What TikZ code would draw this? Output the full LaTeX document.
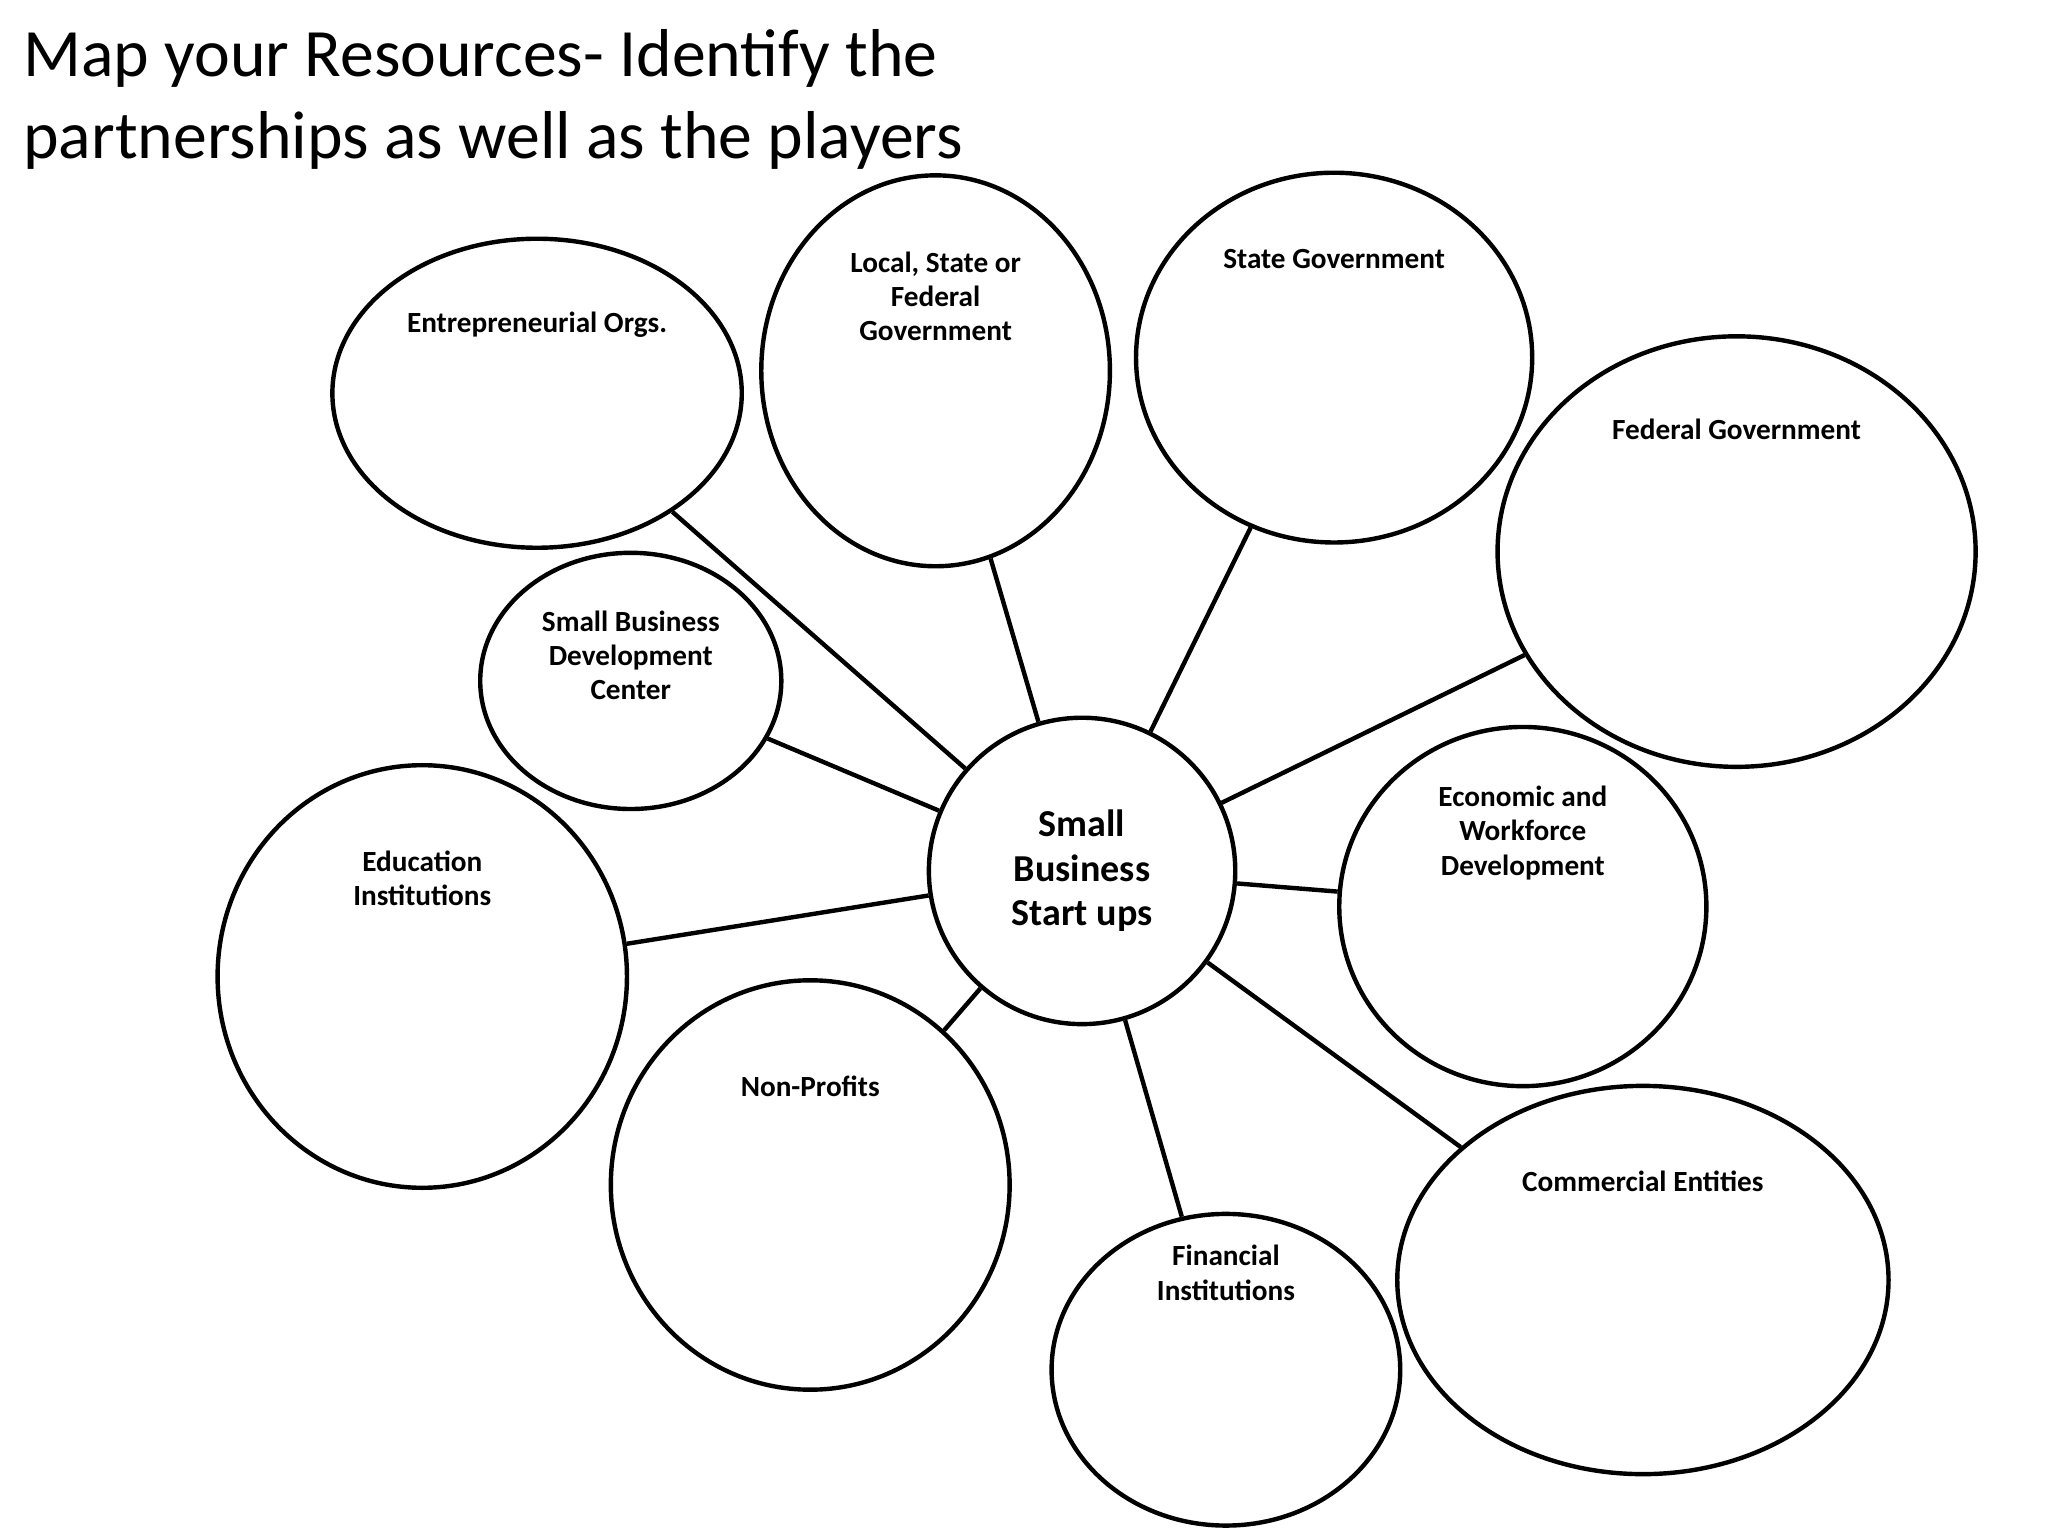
\documentclass[tikz,border=0pt]{standalone}
\usepackage{fontspec}
\setmainfont{Carlito}
\usetikzlibrary{shapes.geometric}
\begin{document}
\begin{tikzpicture}[x=0.01cm,y=-0.01cm,
  bub/.style={draw,ellipse,line width=0.95pt,inner sep=0pt},
  lab/.style={font=\fontsize{6.3}{7.4}\selectfont\bfseries,align=center,anchor=north,inner sep=0pt},
  con/.style={line width=0.95pt}]
\useasboundingbox (0,0) rectangle (1552,1164);
\node[anchor=north west,align=left,inner sep=0pt,font=\fontsize{14.6}{17.6}\selectfont] at (17,22) {Map your Resources- Identify the\\partnerships as well as the players};
\newcommand\bubb[6]{\node[bub,minimum width=#4*0.02cm,minimum height=#5*0.02cm] (#1) at (#2,#3) {};}
\bubb{c}{820}{660}{116}{116}{}
\bubb{ent}{407}{298}{155}{117}{}
\bubb{loc}{709}{281}{132}{148}{}
\bubb{sta}{1011}{271}{150}{140}{}
\bubb{fed}{1316}{418}{181}{163}{}
\bubb{sbdc}{478}{516}{114}{97}{}
\bubb{edu}{320}{740}{155}{160}{}
\bubb{eco}{1154}{687}{139}{136}{}
\bubb{non}{614}{898}{151}{155}{}
\bubb{fin}{929}{1038}{132}{118}{}
\bubb{com}{1245}{970}{186}{147}{}
\node[font=\fontsize{8.2}{9.6}\selectfont\bfseries,align=center,inner sep=0pt] (ct) at (820,660) {Small\\Business\\Start ups};
\node[lab] (t1) at (407,236) {Entrepreneurial Orgs.};
\node[lab] (t2) at (709,190) {Local, State or\\Federal\\Government};
\node[lab] (t3) at (1011,188) {State Government};
\node[lab] (t4) at (1316,317) {Federal Government};
\node[lab] (t5) at (478,462) {Small Business\\Development\\Center};
\node[lab] (t6) at (320,644) {Education\\Institutions};
\node[lab] (t7) at (1154,595) {Economic and\\Workforce\\Development};
\node[lab] (t8) at (614,815) {Non-Profits};
\node[lab] (t9) at (929,943) {Financial\\Institutions};
\node[lab] (t10) at (1245,887) {Commercial Entities};
\foreach \n in {ent,loc,sta,fed,sbdc,edu,eco,non,fin,com} \draw[con] (c) -- (\n);
\end{tikzpicture}
\end{document}
